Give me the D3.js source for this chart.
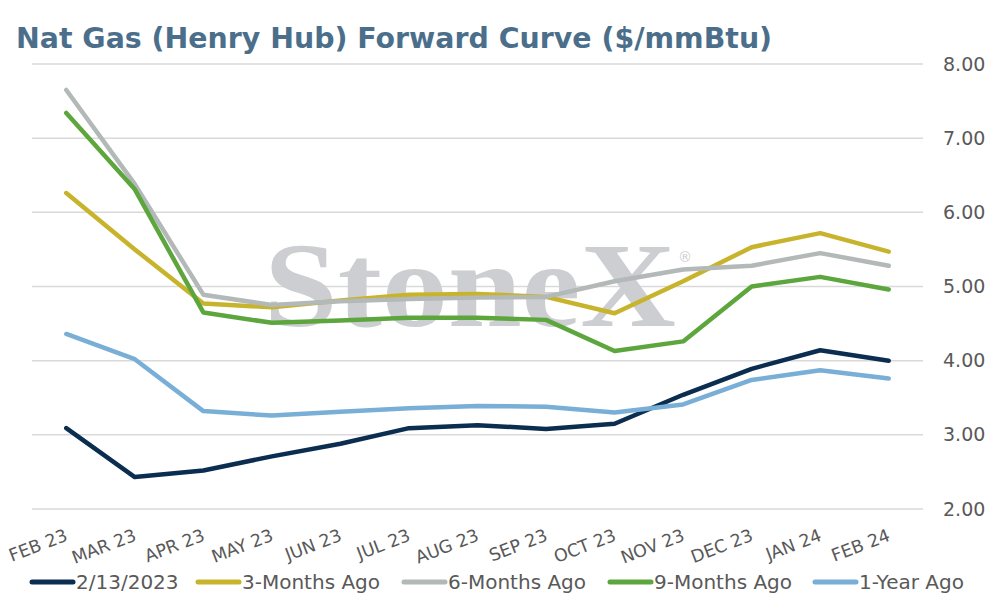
<!DOCTYPE html>
<html>
<head>
<meta charset="utf-8">
<script src="https://cdn.jsdelivr.net/npm/d3@7"></script>
<style>
  body { margin: 0; background: #fff; }
  svg { font-family: "DejaVu Sans", sans-serif; }
</style>
</head>
<body>
<div id="chart"></div>
<script>
// months on the curve
var months = ["FEB 23","MAR 23","APR 23","MAY 23","JUN 23","JUL 23","AUG 23",
              "SEP 23","OCT 23","NOV 23","DEC 23","JAN 24","FEB 24"];

var curveNow   = [3.09, 2.43, 2.52, 2.71, 2.88, 3.09, 3.13, 3.08, 3.15, 3.54, 3.89, 4.14, 4.00];
var curve3m    = [6.26, 5.50, 4.77, 4.72, 4.81, 4.89, 4.90, 4.86, 4.64, 5.07, 5.53, 5.72, 5.47];
var curve6m    = [7.65, 6.38, 4.89, 4.75, 4.80, 4.83, 4.85, 4.86, 5.07, 5.23, 5.28, 5.45, 5.28];
var curve9m    = [7.34, 6.31, 4.65, 4.51, 4.54, 4.58, 4.58, 4.55, 4.13, 4.26, 5.00, 5.13, 4.96];
var curve1y    = [4.36, 4.02, 3.32, 3.26, 3.31, 3.36, 3.39, 3.38, 3.30, 3.41, 3.74, 3.87, 3.76];

var seriesNames = ["2/13/2023","3-Months Ago","6-Months Ago","9-Months Ago","1-Year Ago"];
var yTicks = [2, 3, 4, 5, 6, 7, 8];

var series = [
  {name: seriesNames[0], values: curveNow, color: "#0b2d50"},
  {name: seriesNames[1], values: curve3m,  color: "#c8b42c"},
  {name: seriesNames[2], values: curve6m,  color: "#b3b8b8"},
  {name: seriesNames[3], values: curve9m,  color: "#5da63d"},
  {name: seriesNames[4], values: curve1y,  color: "#79aed6"}
];

var W = 990, H = 600;
var margin = {t:64, r:67, b:91, l:32};
var width = W - margin.l - margin.r,
    height = H - margin.t - margin.b;

var svg = d3.select('#chart')
    .append('svg')
    .attr('width', W)
    .attr('height', H);

// title
svg.append('text')
    .attr('x', 16)
    .attr('y', 48)
    .style('font-size', '28.4px')
    .style('font-weight', 'bold')
    .style('fill', '#4b6f8b')
    .text('Nat Gas (Henry Hub) Forward Curve ($/mmBtu)');

var plot = svg.append('g')
    .attr('transform', 'translate(' + margin.l + ',' + margin.t + ')');

var x = d3.scalePoint().domain(months).range([0, width]).padding(0.5);
var y = d3.scaleLinear().domain([2, 8]).range([height, 0]);

// gridlines
plot.selectAll('.grid')
    .data(yTicks)
    .enter()
    .append('line')
    .attr('class', 'grid')
    .attr('x1', 0).attr('x2', width)
    .attr('y1', function(d){ return y(d); })
    .attr('y2', function(d){ return y(d); })
    .style('stroke', '#d9d9d9')
    .style('stroke-width', 1.5);

// right axis labels
var yAxis = d3.axisRight(y).tickValues(yTicks).tickFormat(d3.format('.2f')).tickSize(0).tickPadding(20);
plot.append('g')
    .attr('transform', 'translate(' + width + ',0)')
    .call(yAxis)
    .call(function(g){ g.select('.domain').remove(); })
    .selectAll('text')
    .style('font-family', '"DejaVu Sans", sans-serif')
    .style('font-size', '19px')
    .style('fill', '#595959');

// watermark
var wm = plot.append('g').attr('class', 'watermark');
wm.append('text')
    .attr('x', 232)
    .attr('y', 262)
    .attr('textLength', 412)
    .attr('lengthAdjust', 'spacingAndGlyphs')
    .style('font-family', '"Liberation Serif", "DejaVu Serif", serif')
    .style('font-weight', 'bold')
    .style('font-size', '121px')
    .style('fill', '#cdced1')
    .text('StoneX');
wm.append('text')
    .attr('x', 646)
    .attr('y', 198)
    .style('font-family', '"DejaVu Sans", sans-serif')
    .style('font-size', '14px')
    .style('fill', '#cdced1')
    .text('®');

// x labels
var xAxis = d3.axisBottom(x).tickSize(0).tickPadding(0);
plot.append('g')
    .attr('transform', 'translate(0,' + height + ')')
    .call(xAxis)
    .call(function(g){ g.select('.domain').remove(); })
    .selectAll('text')
    .attr('dy', null)
    .attr('y', 0)
    .attr('transform', 'translate(2,31) rotate(-21)')
    .style('text-anchor', 'end')
    .style('font-family', '"DejaVu Sans", sans-serif')
    .style('font-size', '17.5px')
    .style('fill', '#595959');

// curves
var line = d3.line()
    .x(function(d, i){ return x(months[i]); })
    .y(function(d){ return y(d); });

plot.selectAll('.curve')
    .data(series)
    .enter()
    .append('path')
    .attr('class', 'curve')
    .attr('d', function(d){ return line(d.values); })
    .style('fill', 'none')
    .style('stroke', function(d){ return d.color; })
    .style('stroke-width', 4.5)
    .style('stroke-linecap', 'round')
    .style('stroke-linejoin', 'round');

// legend
var legendX = [30, 196, 402, 608, 813];
var legend = svg.selectAll('.legend')
    .data(series)
    .enter()
    .append('g')
    .attr('class', 'legend')
    .attr('transform', function(d, i){ return 'translate(' + legendX[i] + ',582)'; });

legend.append('line')
    .attr('x1', 2).attr('x2', 43)
    .attr('y1', 0).attr('y2', 0)
    .style('stroke', function(d){ return d.color; })
    .style('stroke-width', 5)
    .style('stroke-linecap', 'round');

legend.append('text')
    .attr('x', 46)
    .attr('y', 7)
    .style('font-size', '20px')
    .style('fill', '#595959')
    .text(function(d){ return d.name; });
</script>
</body>
</html>
